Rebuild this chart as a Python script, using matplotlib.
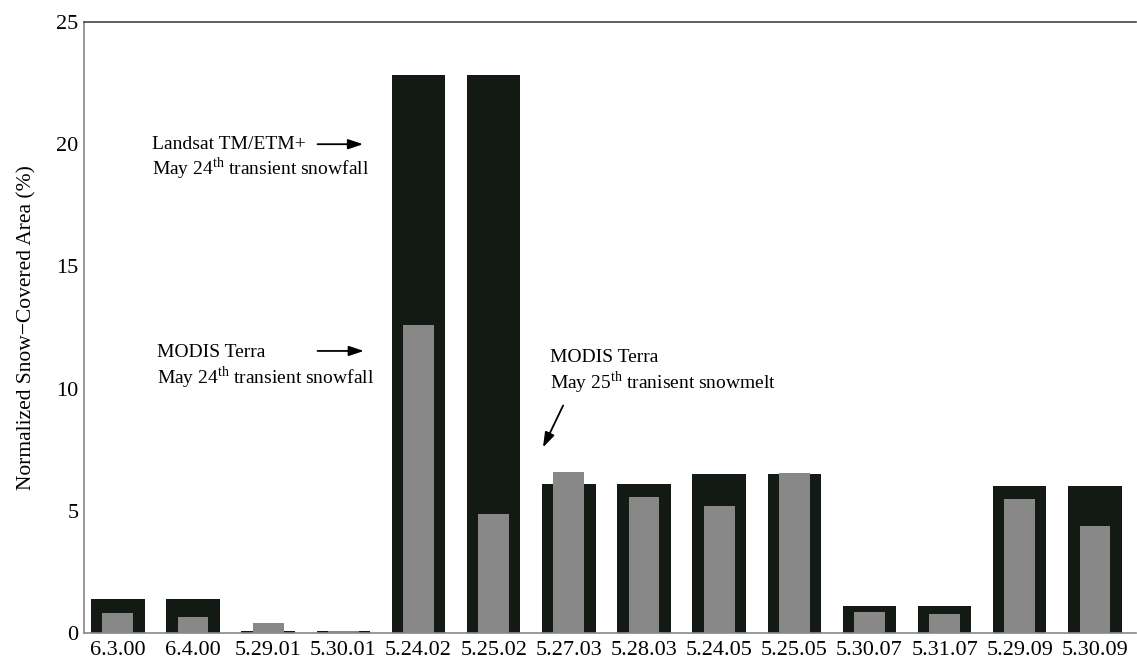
import matplotlib
matplotlib.use("Agg")
import matplotlib.pyplot as plt
import numpy as np

categories = ["6.3.00", "6.4.00", "5.29.01", "5.30.01", "5.24.02", "5.25.02", "5.27.03",
              "5.28.03", "5.24.05", "5.25.05", "5.30.07", "5.31.07", "5.29.09", "5.30.09"]
landsat = [1.4, 1.4, 0.1, 0.1, 22.83, 22.83, 6.08, 6.08, 6.5, 6.5, 1.1, 1.1, 6.0, 6.0]
modis = [0.82, 0.65, 0.41, 0.08, 12.6, 4.87, 6.59, 5.56, 5.2, 6.55, 0.86, 0.78, 5.48, 4.38]
yticks = [0, 5, 10, 15, 20, 25]

plt.rcParams['font.family'] = ['Liberation Serif', 'DejaVu Serif']
plt.rcParams['mathtext.fontset'] = 'custom'
plt.rcParams['mathtext.rm'] = 'Liberation Serif'

fig = plt.figure(figsize=(11.37, 6.61), dpi=100)
ax = fig.add_axes([0.0739, 0.0424, 0.9255, 0.9243])

x = np.arange(len(categories))
ax.bar(x, landsat, width=0.71, color="#131a14", zorder=2)
ax.bar(x, modis, width=0.41, color="#888888", zorder=3)

ax.set_xlim(-0.45, 13.55)
ax.set_ylim(0, 25)
ax.set_yticks(yticks)
ax.set_xticks(x)
ax.set_xticklabels(categories)
ax.tick_params(axis='both', length=0, labelsize=16)
ax.tick_params(axis='y', pad=4)
ax.tick_params(axis='x', pad=6)
ax.set_ylabel("Normalized Snow\u2212Covered Area (%)", fontsize=15.5, labelpad=14)

ax.spines['right'].set_visible(False)
ax.spines['left'].set_color('#888888')
ax.spines['bottom'].set_color('#888888')
ax.spines['top'].set_color('#444444')
for s in ax.spines.values():
    s.set_linewidth(1.2)

fs = 14
aprops = dict(arrowstyle="-|>,head_length=0.6,head_width=0.2", color="black", lw=1.3, mutation_scale=15)
ax.text(0.46, 19.97, "Landsat TM/ETM+", fontsize=fs, va='center', ha='left')
ax.text(0.46, 19.0, "May 24$^{\\mathrm{th}}$ transient snowfall", fontsize=fs, va='center', ha='left')
ax.annotate("", xy=(3.3, 20.0), xytext=(2.62, 20.0), arrowprops=aprops)

ax.text(0.52, 11.46, "MODIS Terra", fontsize=fs, va='center', ha='left')
ax.text(0.52, 10.43, "May 24$^{\\mathrm{th}}$ transient snowfall", fontsize=fs, va='center', ha='left')
ax.annotate("", xy=(3.31, 11.54), xytext=(2.62, 11.54), arrowprops=aprops)

ax.text(5.75, 11.29, "MODIS Terra", fontsize=fs, va='center', ha='left')
ax.text(5.75, 10.23, "May 25$^{\\mathrm{th}}$ tranisent snowmelt", fontsize=fs, va='center', ha='left')
ax.annotate("", xy=(5.64, 7.49), xytext=(5.94, 9.41), arrowprops=aprops)

fig.savefig("out.png", dpi=100)
